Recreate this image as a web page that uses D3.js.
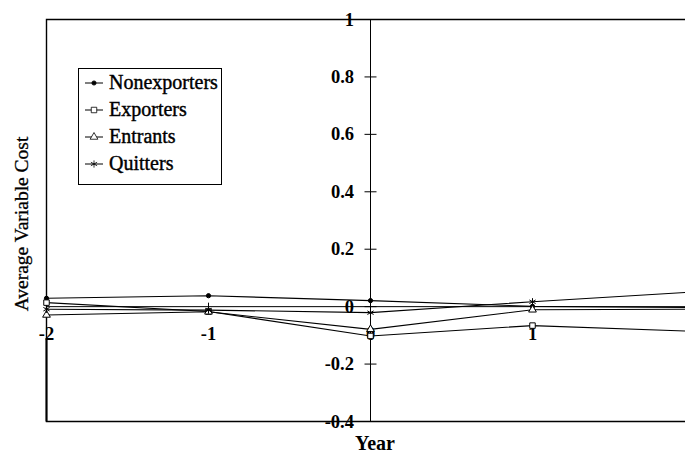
<!DOCTYPE html>
<html>
<head>
<meta charset="utf-8">
<style>
  body { margin: 0; background: #fff; }
  svg { display: block; font-family: "Liberation Serif", "Times New Roman", serif; }
</style>
</head>
<body>
<svg width="685" height="455"></svg>
<script src="https://d3js.org/d3.v7.min.js"></script>
<script>

var years = [-2, -1, 0, 1, 2];

var nonexporters = [0.029, 0.038, 0.021, 0.001, -0.003];
var exporters    = [0.014, -0.017, -0.102, -0.066, -0.086];
var entrants     = [-0.029, -0.018, -0.079, -0.011, -0.009];
var quitters     = [-0.009, -0.012, -0.021, 0.017, 0.051];

var yTicks = [1, 0.8, 0.6, 0.4, 0.2, 0, -0.2, -0.4];
var yTickLabels = ["1", "0.8", "0.6", "0.4", "0.2", "0", "-0.2", "-0.4"];
var xTicks = [-2, -1, 0, 1];
var xTickLabels = ["-2", "-1", "0", "1"];

var seriesNames = ["Nonexporters", "Exporters", "Entrants", "Quitters"];
var seriesValues = [nonexporters, exporters, entrants, quitters];

var svg = d3.select("svg");

var x = d3.scaleLinear().domain([-2, 2]).range([46.5, 694.5]);
var y = d3.scaleLinear().domain([-0.4, 1]).range([421.5, 19.5]);

var symbols = [
  d3.symbol().type(d3.symbolCircle).size(14),
  d3.symbol().type(d3.symbolSquare).size(30),
  d3.symbol().type(d3.symbolTriangle).size(26),
  d3.symbol().type(d3.symbolAsterisk).size(36)
];
var fills = ["#000", "#fff", "#fff", "none"];

// frame
svg.append("path")
    .attr("d", "M" + x(2) + "," + y(1) + "H" + x(-2) + "V" + y(-0.4) + "H" + x(2))
    .attr("fill", "none")
    .attr("stroke", "#000")
    .attr("stroke-width", 1.4);

// thicker left edge below the zero line
svg.append("line")
    .attr("x1", x(-2)).attr("x2", x(-2))
    .attr("y1", y(-0.11)).attr("y2", y(-0.4))
    .attr("stroke", "#000").attr("stroke-width", 2);

// y axis through x = 0
svg.append("line")
    .attr("x1", x(0)).attr("x2", x(0))
    .attr("y1", y(1)).attr("y2", y(-0.4))
    .attr("stroke", "#000").attr("stroke-width", 1);

svg.append("g").selectAll("line")
  .data(yTicks)
  .join("line")
    .attr("x1", x(0) - 6).attr("x2", x(0) + 6)
    .attr("y1", function(d) { return y(d); })
    .attr("y2", function(d) { return y(d); })
    .attr("stroke", "#000");

svg.append("g").selectAll("text")
  .data(yTicks)
  .join("text")
    .attr("x", 354)
    .attr("y", function(d) { return y(d); })
    .attr("dy", 6)
    .attr("text-anchor", "end")
    .attr("font-size", 18.5)
    .attr("font-weight", "bold")
    .text(function(d, i) { return yTickLabels[i]; });

// x axis at y = 0
svg.append("line")
    .attr("x1", x(-2)).attr("x2", x(2))
    .attr("y1", y(0)).attr("y2", y(0))
    .attr("stroke", "#000").attr("stroke-width", 1);

svg.append("g").selectAll("line")
  .data(xTicks)
  .join("line")
    .attr("x1", function(d) { return x(d); })
    .attr("x2", function(d) { return x(d); })
    .attr("y1", y(0) - 4).attr("y2", y(0) + 4)
    .attr("stroke", "#000");

svg.append("g").selectAll("text")
  .data(xTicks)
  .join("text")
    .attr("x", function(d) { return x(d); })
    .attr("y", 340)
    .attr("text-anchor", "middle")
    .attr("font-size", 18.5)
    .attr("font-weight", "bold")
    .text(function(d, i) { return xTickLabels[i]; });

// series
var line = d3.line()
    .x(function(d) { return x(d[0]); })
    .y(function(d) { return y(d[1]); });

seriesValues.forEach(function(vals, s) {
  var pts = years.map(function(yr, i) { return [yr, vals[i]]; });
  svg.append("path")
      .attr("d", line(pts))
      .attr("fill", "none")
      .attr("stroke", "#000")
      .attr("stroke-width", 1.1);
  svg.append("g").selectAll("path")
    .data(pts)
    .join("path")
      .attr("transform", function(d) { return "translate(" + x(d[0]) + "," + y(d[1]) + ")"; })
      .attr("d", symbols[s])
      .attr("fill", fills[s])
      .attr("stroke", "#000")
      .attr("stroke-width", 1);
});

// legend
var legend = svg.append("g");
legend.append("rect")
    .attr("x", 78.5).attr("y", 68.5)
    .attr("width", 143).attr("height", 116)
    .attr("fill", "#fff")
    .attr("stroke", "#000");

var item = legend.selectAll("g.item")
  .data(seriesNames)
  .join("g")
    .attr("class", "item")
    .attr("transform", function(d, i) { return "translate(0," + (89 + i * 27) + ")"; });

item.append("line")
    .attr("x1", 85).attr("x2", 103)
    .attr("y1", -6).attr("y2", -6)
    .attr("stroke", "#000");

item.append("path")
    .attr("transform", "translate(94,-6)")
    .attr("d", function(d, i) { return symbols[i](); })
    .attr("fill", function(d, i) { return fills[i]; })
    .attr("stroke", "#000")
    .attr("stroke-width", 0.8);

item.append("text")
    .attr("x", 109)
    .attr("font-size", 20)
    .attr("stroke", "#000")
    .attr("stroke-width", 0.4)
    .text(function(d) { return d; });

// axis titles
svg.append("text")
    .attr("transform", "translate(28,224) rotate(-90)")
    .attr("text-anchor", "middle")
    .attr("font-size", 19.5)
    .attr("stroke", "#000")
    .attr("stroke-width", 0.3)
    .text("Average Variable Cost");

svg.append("text")
    .attr("x", 375)
    .attr("y", 450)
    .attr("text-anchor", "middle")
    .attr("font-size", 20)
    .attr("font-weight", "bold")
    .text("Year");

</script>
</body>
</html>
